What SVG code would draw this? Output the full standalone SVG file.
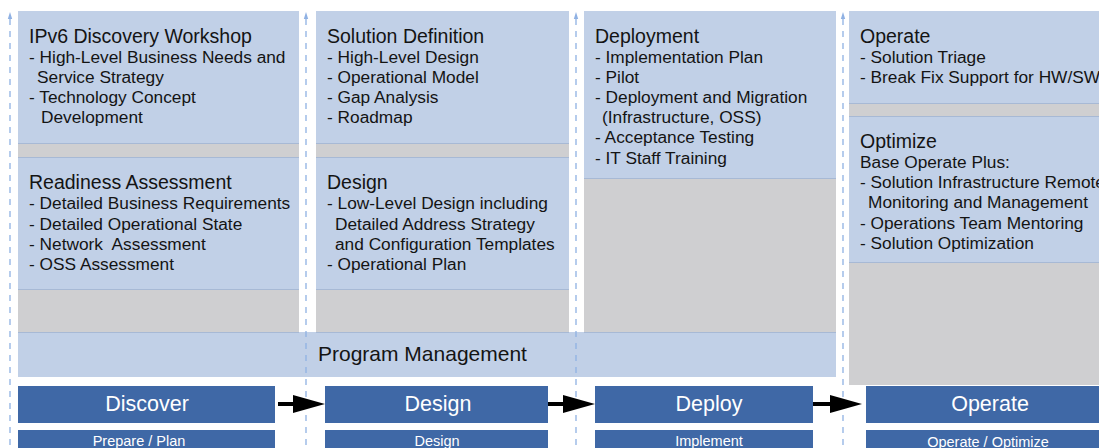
<svg xmlns="http://www.w3.org/2000/svg" width="1099" height="448" viewBox="0 0 1099 448">
  <style>
    .blue { fill: #c1d0e7; }
    .gray { fill: #cfcfd1; }
    .edge { stroke: #a7b9d5; stroke-width: 1; fill: none; }
    .bar { fill: #3f68a6; }
    .title { font-family: "Liberation Sans", Arial, sans-serif; font-size: 19.5px; fill: #141414; }
    .item { font-family: "Liberation Sans", Arial, sans-serif; font-size: 17.3px; fill: #141414; white-space: pre; }
    .pm { font-family: "Liberation Sans", Arial, sans-serif; font-size: 21px; fill: #141414; }
    .barlabel { font-family: "Liberation Sans", Arial, sans-serif; font-size: 21.5px; fill: #ffffff; text-anchor: middle; }
    .sublabel { font-family: "Liberation Sans", Arial, sans-serif; font-size: 14.5px; fill: #ffffff; text-anchor: middle; }
    .guide { stroke: #8fb1e3; stroke-width: 1.3; stroke-dasharray: 6 6; fill: none; }
    .guidehead { fill: #8fb1e3; }
    .flow { stroke: #000000; stroke-width: 4; fill: none; }
  </style>
  <defs>
    <marker id="bigArrow" viewBox="0 0 32 18" refX="17" refY="9" markerWidth="32" markerHeight="18" markerUnits="userSpaceOnUse" orient="auto">
      <path d="M0,0 L32,9 L0,18 z" fill="#000000"/>
    </marker>
  </defs>

  <rect x="0" y="0" width="1099" height="448" fill="#ffffff"/>

  <!-- Program management band -->
  <g id="program-management">
    <rect x="18" y="332" width="818" height="45" class="blue"/>
    <text x="318" y="361" class="pm">Program Management</text>
  </g>

  <!-- Column 1 -->
  <g id="col-discover">
    <rect x="18" y="11" width="281" height="321" class="gray"/>
    <rect x="18" y="11" width="281" height="132" class="blue"/>
    <line x1="18" y1="143.5" x2="299" y2="143.5" class="edge"/>
    <rect x="18" y="158" width="281" height="131" class="blue"/>
    <line x1="18" y1="157.5" x2="299" y2="157.5" class="edge"/>
    <line x1="18" y1="289.5" x2="299" y2="289.5" class="edge"/>
    <line x1="18" y1="332.5" x2="299" y2="332.5" class="edge"/>
  </g>
  <g id="node-ipv6-workshop">
    <text x="29" y="43" class="title">IPv6 Discovery Workshop</text>
    <text x="29" y="63" class="item">- High-Level Business Needs and</text>
    <text x="37" y="83" class="item">Service Strategy</text>
    <text x="29" y="103" class="item">- Technology Concept</text>
    <text x="41" y="123" class="item">Development</text>
  </g>
  <g id="node-readiness">
    <text x="29" y="189" class="title">Readiness Assessment</text>
    <text x="29" y="209" class="item">- Detailed Business Requirements</text>
    <text x="29" y="230" class="item">- Detailed Operational State</text>
    <text x="29" y="250" class="item">- Network  Assessment</text>
    <text x="29" y="270" class="item">- OSS Assessment</text>
  </g>

  <!-- Column 2 -->
  <g id="col-design">
    <rect x="316" y="11" width="253" height="321" class="gray"/>
    <rect x="316" y="11" width="253" height="132" class="blue"/>
    <line x1="316" y1="143.5" x2="569" y2="143.5" class="edge"/>
    <rect x="316" y="158" width="253" height="131" class="blue"/>
    <line x1="316" y1="157.5" x2="569" y2="157.5" class="edge"/>
    <line x1="316" y1="289.5" x2="569" y2="289.5" class="edge"/>
    <line x1="316" y1="332.5" x2="569" y2="332.5" class="edge"/>
  </g>
  <g id="node-solution-definition">
    <text x="327" y="43" class="title">Solution Definition</text>
    <text x="327" y="63" class="item">- High-Level Design</text>
    <text x="327" y="83" class="item">- Operational Model</text>
    <text x="327" y="103" class="item">- Gap Analysis</text>
    <text x="327" y="123" class="item">- Roadmap</text>
  </g>
  <g id="node-design">
    <text x="327" y="189" class="title">Design</text>
    <text x="327" y="209" class="item">- Low-Level Design including</text>
    <text x="335" y="230" class="item">Detailed Address Strategy</text>
    <text x="335" y="250" class="item">and Configuration Templates</text>
    <text x="327" y="270" class="item">- Operational Plan</text>
  </g>

  <!-- Column 3 -->
  <g id="col-deploy">
    <rect x="584" y="11" width="252" height="321" class="gray"/>
    <rect x="584" y="11" width="252" height="167" class="blue"/>
    <line x1="584" y1="178.5" x2="836" y2="178.5" class="edge"/>
    <line x1="584" y1="332.5" x2="836" y2="332.5" class="edge"/>
  </g>
  <g id="node-deployment">
    <text x="595" y="43" class="title">Deployment</text>
    <text x="595" y="63" class="item">- Implementation Plan</text>
    <text x="595" y="83" class="item">- Pilot</text>
    <text x="595" y="103" class="item">- Deployment and Migration</text>
    <text x="602" y="123" class="item">(Infrastructure, OSS)</text>
    <text x="595" y="143" class="item">- Acceptance Testing</text>
    <text x="595" y="164" class="item">- IT Staff Training</text>
  </g>

  <!-- Column 4 -->
  <g id="col-operate">
    <rect x="849" y="11" width="250" height="374" class="gray"/>
    <rect x="849" y="11" width="250" height="92" class="blue"/>
    <line x1="849" y1="103.5" x2="1099" y2="103.5" class="edge"/>
    <rect x="849" y="117" width="250" height="145" class="blue"/>
    <line x1="849" y1="116.5" x2="1099" y2="116.5" class="edge"/>
    <line x1="849" y1="262.5" x2="1099" y2="262.5" class="edge"/>
  </g>
  <g id="node-operate">
    <text x="860" y="43" class="title">Operate</text>
    <text x="860" y="63" class="item">- Solution Triage</text>
    <text x="860" y="83" class="item">- Break Fix Support for HW/SW</text>
  </g>
  <g id="node-optimize">
    <text x="860" y="148" class="title">Optimize</text>
    <text x="860" y="168" class="item">Base Operate Plus:</text>
    <text x="860" y="188" class="item">- Solution Infrastructure Remote</text>
    <text x="868" y="208" class="item">Monitoring and Management</text>
    <text x="860" y="229" class="item">- Operations Team Mentoring</text>
    <text x="860" y="249" class="item">- Solution Optimization</text>
  </g>

  <!-- Dashed guide lines -->
  <g id="guides">
    <line x1="10" y1="19" x2="10" y2="448" class="guide"/>
    <polygon points="10,12 7.8,19 12.2,19" class="guidehead"/>
    <line x1="306" y1="19" x2="306" y2="448" class="guide"/>
    <polygon points="306,12 303.8,19 308.2,19" class="guidehead"/>
    <line x1="576" y1="19" x2="576" y2="448" class="guide"/>
    <polygon points="576,12 573.8,19 578.2,19" class="guidehead"/>
    <line x1="843" y1="19" x2="843" y2="448" class="guide"/>
    <polygon points="843,12 840.8,19 845.2,19" class="guidehead"/>
  </g>

  <!-- Phase bars -->
  <g id="node-discover">
    <rect x="18" y="386" width="257" height="37" class="bar"/>
    <text x="147" y="411" class="barlabel">Discover</text>
    <rect x="18" y="430" width="257" height="18" class="bar"/>
    <text x="139" y="446" class="sublabel">Prepare / Plan</text>
  </g>
  <g id="node-design-phase">
    <rect x="325" y="386" width="223" height="37" class="bar"/>
    <text x="438" y="411" class="barlabel">Design</text>
    <rect x="325" y="430" width="223" height="18" class="bar"/>
    <text x="437" y="446" class="sublabel">Design</text>
  </g>
  <g id="node-deploy">
    <rect x="595" y="386" width="218" height="37" class="bar"/>
    <text x="709" y="411" class="barlabel">Deploy</text>
    <rect x="595" y="430" width="218" height="18" class="bar"/>
    <text x="709" y="446" class="sublabel">Implement</text>
  </g>
  <g id="node-operate-phase">
    <rect x="866" y="386" width="233" height="37" class="bar"/>
    <text x="990" y="411" class="barlabel">Operate</text>
    <rect x="866" y="430" width="233" height="18" class="bar"/>
    <text x="988" y="447" class="sublabel">Operate / Optimize</text>
  </g>

  <!-- Connectors -->
  <g id="connectors">
    <line x1="278" y1="404" x2="310" y2="404" class="flow" marker-end="url(#bigArrow)"/>
    <line x1="548" y1="404" x2="580" y2="404" class="flow" marker-end="url(#bigArrow)"/>
    <line x1="813" y1="404" x2="847" y2="404" class="flow" marker-end="url(#bigArrow)"/>
  </g>
</svg>
